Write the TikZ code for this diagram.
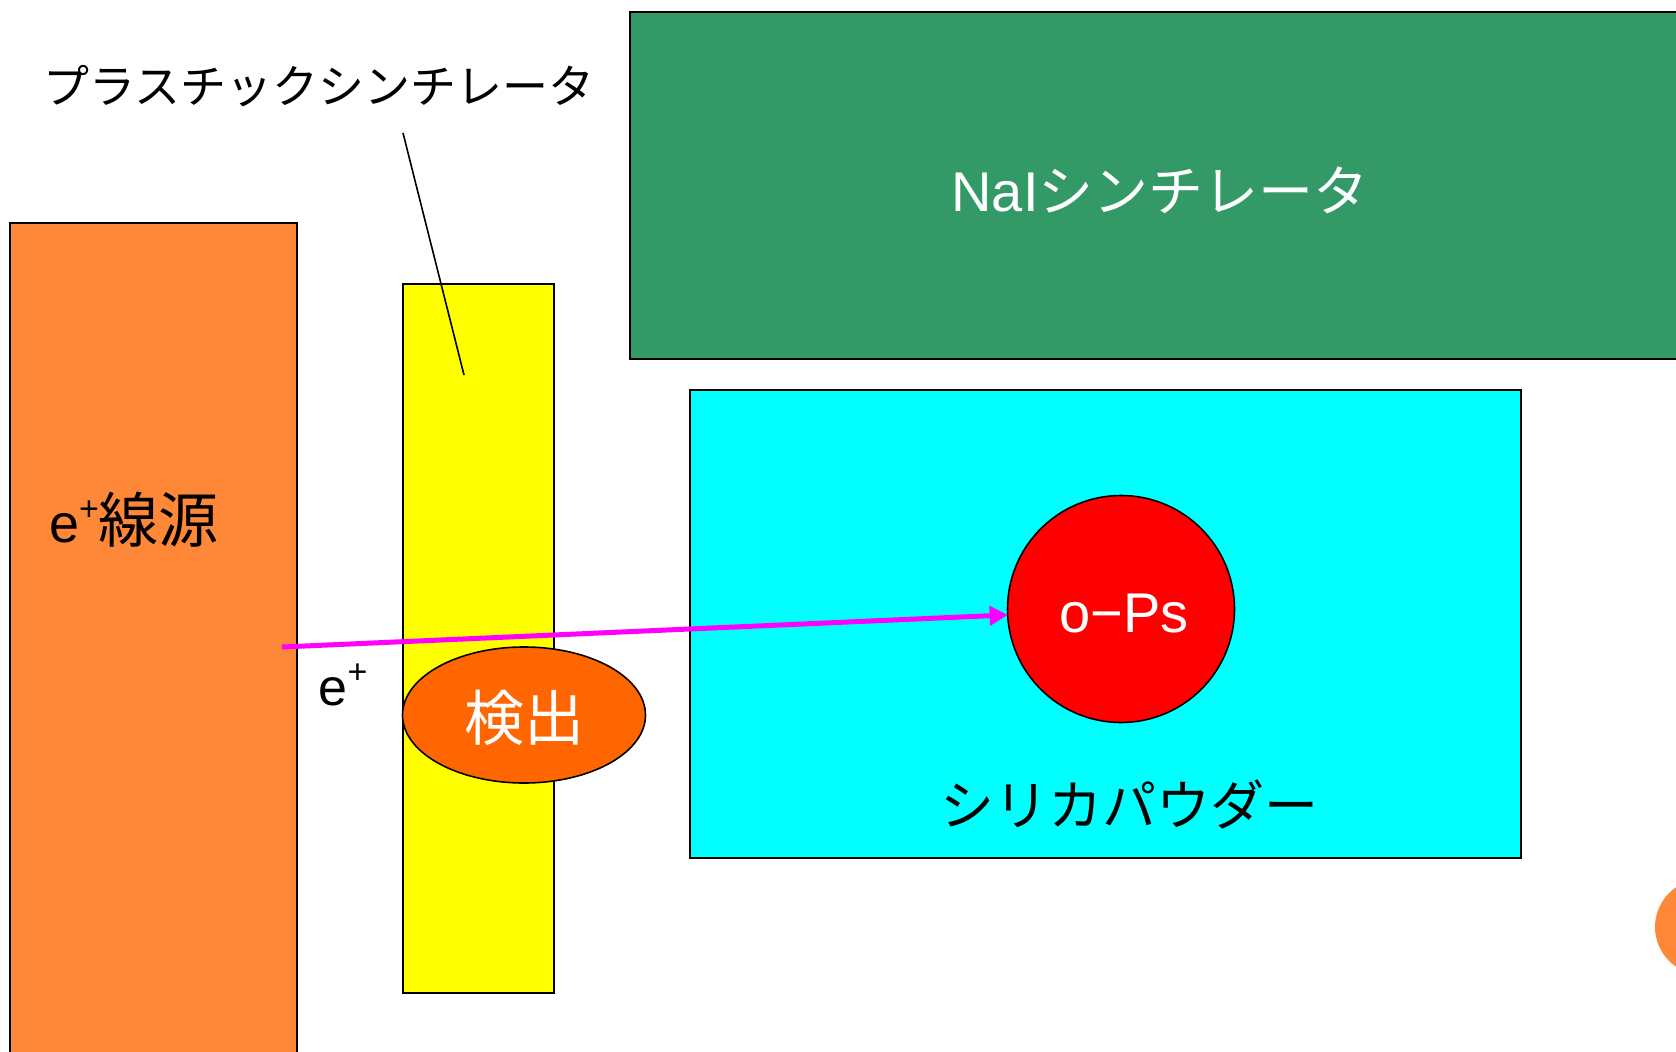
\documentclass[tikz,border=0pt]{standalone}
\usepackage{fontspec}
\setmainfont{Liberation Sans}
\newfontfamily\jp{Noto Sans CJK JP}
\usetikzlibrary{shapes.geometric,arrows.meta}
\definecolor{srcorange}{HTML}{FF8838}
\definecolor{detorange}{HTML}{FF6600}
\definecolor{naigreen}{HTML}{339966}
\definecolor{plyellow}{HTML}{FFFF00}
\definecolor{silicyan}{HTML}{00FFFF}
\definecolor{psred}{HTML}{FF0000}
\definecolor{beam}{HTML}{FF00FF}
\newcommand{\mysupplus}{\raisebox{0.42em}{\fontsize{34}{34}\selectfont +}}
\tikzset{
  blockbox/.style={draw=black, line width=2pt, inner sep=0pt, outer sep=0pt, anchor=north west},
  lbl/.style={inner sep=0pt, outer sep=0pt, align=center}
}
\begin{document}
\begin{tikzpicture}[x=1pt,y=-1pt]
\useasboundingbox (0,0) rectangle (1676,1052);
\clip (0,0) rectangle (1676,1052);
\fill[white] (0,0) rectangle (1676,1052);
% source
\node[blockbox, fill=srcorange, minimum width=287pt, minimum height=860pt] (src) at (10,223) {};
% plastic scintillator
\node[blockbox, fill=plyellow, minimum width=151pt, minimum height=709pt] (plastic) at (403,284) {};
% label of plastic scintillator
\node[lbl] (pltext) at (319,86) {\jp\fontsize{46}{46}\selectfont プラスチックシンチレータ};
\coordinate (ptop) at (403,133);
\coordinate (pbot) at (464,375);
\draw[line width=1.6pt] (ptop) -- (pbot);
% NaI
\node[blockbox, fill=naigreen, minimum width=1060pt, minimum height=347pt] (nai) at (630,12) {};
\node[lbl, text=white] (naitext) at (1160,190) {\fontsize{56}{56}\selectfont NaI{\jp\fontsize{55}{55}\selectfont シンチレータ}};
% silica powder
\node[blockbox, fill=silicyan, minimum width=831pt, minimum height=468pt] (silica) at (690,390) {};
\node[lbl] (silicatext) at (1129,804) {\jp\fontsize{54}{54}\selectfont シリカパウダー};
% o-Ps
\node[circle, draw=black, line width=1.6pt, fill=psred, minimum size=227pt, inner sep=0pt, outer sep=0pt] (ops) at (1121,609) {};
\node[lbl, text=white] (opstext) at (1124,614) {\fontsize{56}{56}\selectfont o−Ps};
% source label
\node[lbl] (srctext) at (134,520) {\fontsize{54}{54}\selectfont e\mysupplus{\jp\fontsize{60}{60}\selectfont 線源}};
% e+ label
\node[lbl] (etext) at (343,685) {\fontsize{52}{52}\selectfont e\mysupplus};
% beam arrow
\coordinate (start) at (282,647);
\draw[beam, line width=5pt, -{Triangle[length=18pt,width=19pt]}] (start) -- (ops.183);
% detection ellipse
\node[ellipse, draw=black, line width=1.6pt, fill=detorange, minimum width=243pt, minimum height=136pt, inner sep=0pt, outer sep=0pt] (det) at (524,715) {};
\node[lbl, text=white] (dettext) at (524,718) {\jp\fontsize{60}{60}\selectfont 検出};
% decorative circle at right edge
\node[circle, fill=srcorange, minimum size=96pt, inner sep=0pt] (deco) at (1703,927) {};
\end{tikzpicture}
\end{document}
